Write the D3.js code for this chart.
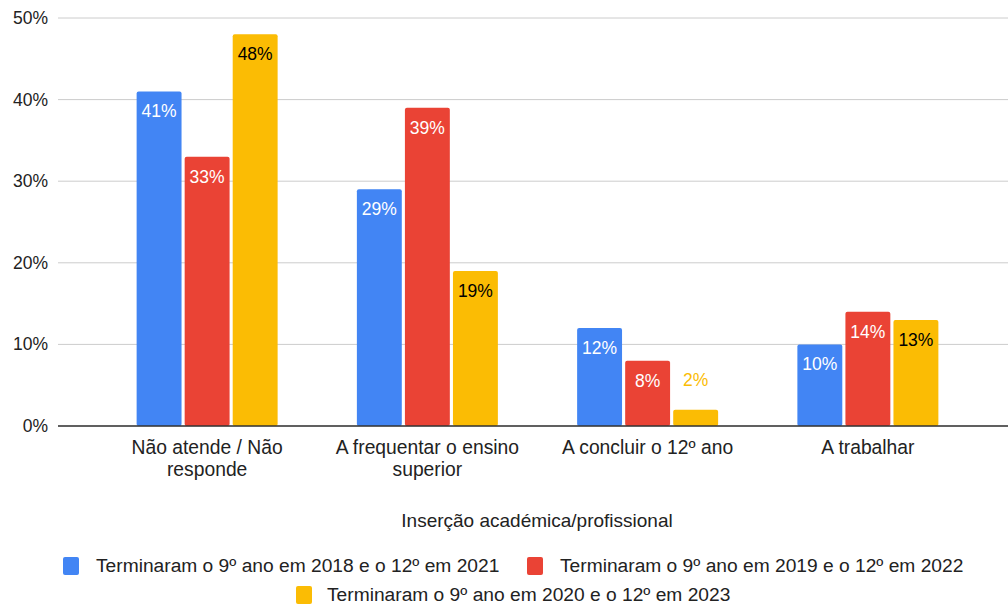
<!DOCTYPE html>
<html>
<head>
<meta charset="utf-8">
<script src="https://cdn.jsdelivr.net/npm/d3@7"></script>
<style>
  body { margin: 0; background: #fff; }
  text { font-family: "Liberation Sans", Arial, sans-serif; }
</style>
</head>
<body>
<div id="chart"></div>
<script>
// Data
const categories = [
  ["Não atende / Não", "responde"],
  ["A frequentar o ensino", "superior"],
  ["A concluir o 12º ano"],
  ["A trabalhar"],
];
const seriesNames = [
  "Terminaram o 9º ano em 2018 e o 12º em 2021",
  "Terminaram o 9º ano em 2019 e o 12º em 2022",
  "Terminaram o 9º ano em 2020 e o 12º em 2023",
];
const values2021 = [41, 29, 12, 10];
const values2022 = [33, 39, 8, 14];
const values2023 = [48, 19, 2, 13];
const yTicks = [0, 10, 20, 30, 40, 50];

const colors = ["#4285F4", "#EA4335", "#FBBC04"];
const labelColors = ["#ffffff", "#ffffff", "#000000"];
const allValues = [values2021, values2022, values2023];

const width = 1008, height = 604;

const svg = d3.select("#chart").append("svg")
  .attr("width", width).attr("height", height);

// Scales
const x = d3.scaleBand().domain(d3.range(categories.length)).range([97, 978]);
const xInner = d3.scaleBand().domain(d3.range(3)).range([-70.5, 70.5]).paddingInner(0.065);
const y = d3.scaleLinear().domain([0, 50]).range([426, 18]);

// Grid + y labels
svg.append("g").selectAll("line").data(yTicks).join("line")
  .attr("x1", 58).attr("x2", 1008)
  .attr("y1", d => y(d)).attr("y2", d => y(d))
  .attr("stroke", "#cccccc").attr("stroke-width", 1);

svg.append("g").selectAll("text").data(yTicks).join("text")
  .attr("x", 48).attr("y", d => y(d) + 6)
  .attr("text-anchor", "end")
  .attr("font-size", 17.5).attr("fill", "#222")
  .text(d => d + "%");

// Bars
const groups = svg.append("g").selectAll("g").data(categories).join("g")
  .attr("transform", (d, i) => `translate(${x(i) + x.bandwidth() / 2},0)`);

groups.each(function (c, i) {
  const g = d3.select(this);
  allValues.forEach((vals, s) => {
    const v = vals[i];
    g.append("rect")
      .attr("x", xInner(s))
      .attr("y", y(v))
      .attr("width", xInner.bandwidth())
      .attr("height", y(0) - y(v))
      .attr("rx", 2)
      .attr("fill", colors[s]);
    const inside = y(0) - y(v) > 35;
    g.append("text")
      .attr("x", xInner(s) + xInner.bandwidth() / 2)
      .attr("y", inside ? y(v) + 26 : y(v) - 24)
      .attr("text-anchor", "middle")
      .attr("font-family", "Roboto, sans-serif")
      .attr("font-size", 17.5)
      .attr("fill", inside ? labelColors[s] : colors[s])
      .text(v + "%");
  });
});

// Baseline
svg.append("line")
  .attr("x1", 58).attr("x2", 1008)
  .attr("y1", y(0)).attr("y2", y(0))
  .attr("stroke", "#333").attr("stroke-width", 1.3);

// Category labels
const catText = svg.append("g").selectAll("text").data(categories).join("text")
  .attr("x", (d, i) => x(i) + x.bandwidth() / 2)
  .attr("y", 454)
  .attr("text-anchor", "middle")
  .attr("font-size", 19.3).attr("fill", "#222");
catText.selectAll("tspan").data(d => d).join("tspan")
  .attr("x", function () { return d3.select(this.parentNode).attr("x"); })
  .attr("dy", (d, j) => j === 0 ? 0 : 22)
  .text(d => d);

// Axis title
svg.append("text")
  .attr("x", 537).attr("y", 527)
  .attr("text-anchor", "middle")
  .attr("font-size", 19).attr("fill", "#222")
  .text("Inserção académica/profissional");

// Legend
const legendPos = [
  { x: 63, y: 566 },
  { x: 527, y: 566 },
  { x: 296, y: 595 },
];
const legend = svg.append("g").selectAll("g").data(seriesNames).join("g")
  .attr("transform", (d, i) => `translate(${legendPos[i].x},${legendPos[i].y})`);
legend.append("rect")
  .attr("x", 0).attr("y", -9).attr("width", 16).attr("height", 18)
  .attr("rx", 2)
  .attr("fill", (d, i) => colors[i]);
legend.append("text")
  .attr("x", (d, i) => i === 2 ? 31 : 33).attr("y", 6)
  .attr("font-size", 19.2).attr("fill", "#222")
  .text(d => d);
</script>
</body>
</html>
